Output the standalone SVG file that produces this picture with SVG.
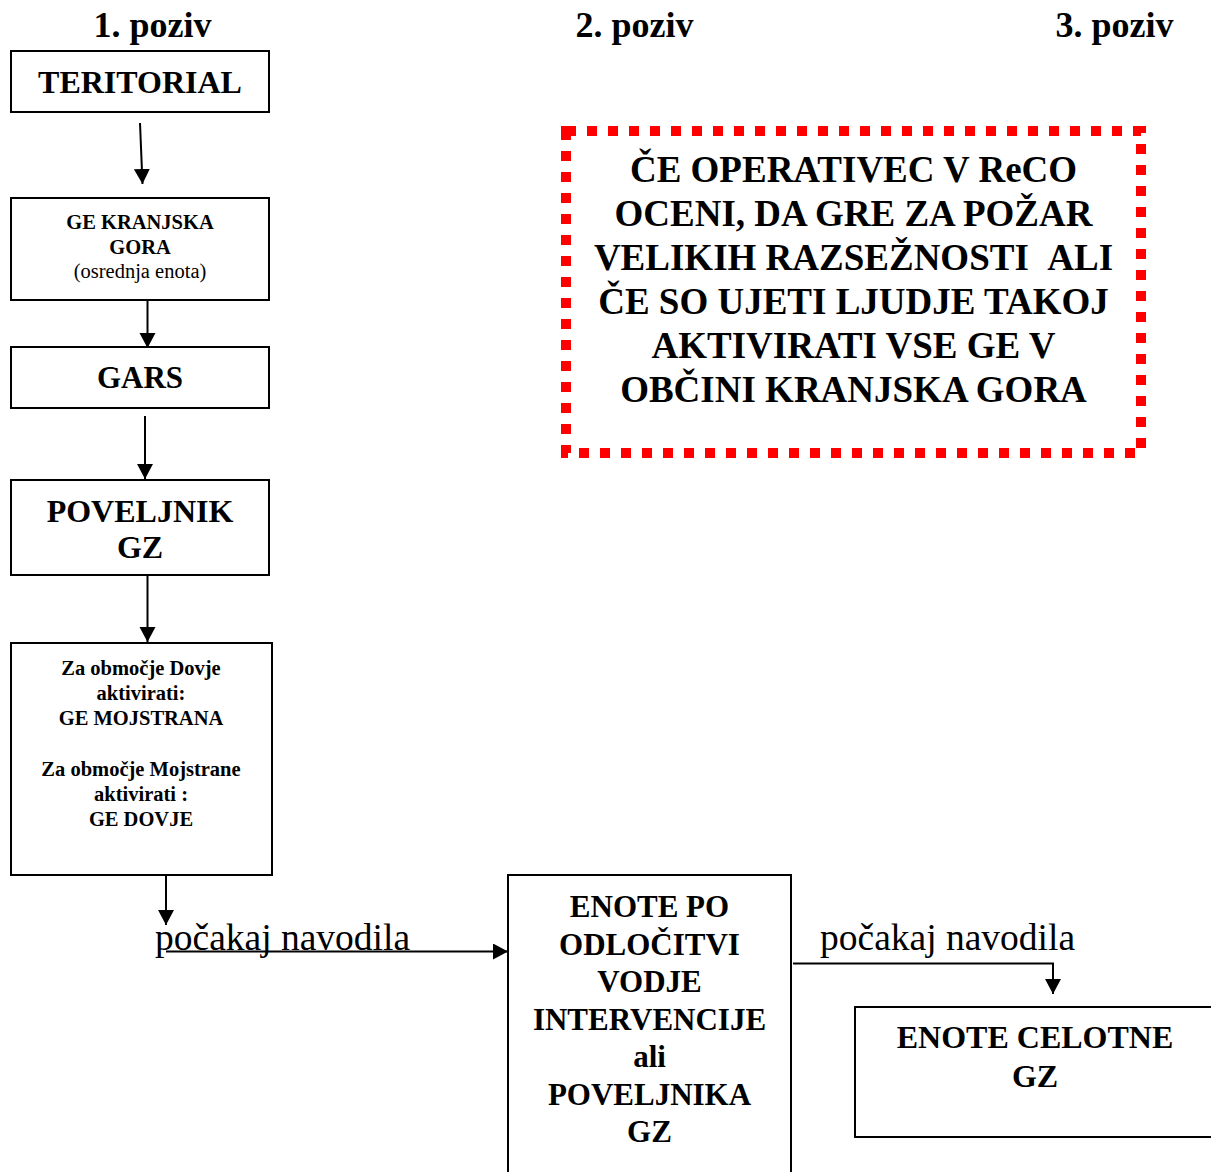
<svg xmlns="http://www.w3.org/2000/svg" width="1211" height="1172" viewBox="0 0 1211 1172">
<style>
text{font-family:"Liberation Serif","Times New Roman",serif;fill:#000;text-anchor:middle}
.b{font-weight:bold}
.box{fill:#fff;stroke:#000;stroke-width:2}
.con{fill:none;stroke:#000;stroke-width:2}
.h{font-size:36px;font-weight:bold}
.note{fill:none;stroke:#ff0000;stroke-width:10;stroke-dasharray:10 11}
</style>
<defs>
<marker id="ah" markerUnits="userSpaceOnUse" markerWidth="18" markerHeight="18" refX="15" refY="8" orient="auto">
<path d="M0,0 L15,8 L0,16 z" fill="#000"/>
</marker>
</defs>
<rect width="1211" height="1172" fill="#fff"/>
<g id="headings">
<text class="h" x="152.5" y="37">1. poziv</text>
<text class="h" x="634.5" y="37">2. poziv</text>
<text class="h" x="1114.5" y="37">3. poziv</text>
</g>
<g id="teritorial">
<rect class="box" x="11" y="51" width="258" height="61"/>
<text class="b" x="140" y="93" font-size="32">TERITORIAL</text>
</g>
<g id="ge-kranjska-gora">
<rect class="box" x="11" y="198" width="258" height="102"/>
<text class="b" x="140" y="229" font-size="20.5">GE KRANJSKA</text>
<text class="b" x="140" y="254" font-size="20.5">GORA</text>
<text x="140" y="278" font-size="20.5">(osrednja enota)</text>
</g>
<g id="gars">
<rect class="box" x="11" y="347" width="258" height="61"/>
<text class="b" x="140" y="388" font-size="31">GARS</text>
</g>
<g id="poveljnik-gz">
<rect class="box" x="11" y="480" width="258" height="95"/>
<text class="b" x="140" y="522" font-size="32">POVELJNIK</text>
<text class="b" x="140" y="558" font-size="32">GZ</text>
</g>
<g id="za-obmocje">
<rect class="box" x="11" y="643" width="261" height="232"/>
<g class="b" font-size="20.5">
<text x="141" y="675">Za območje Dovje</text>
<text x="141" y="700">aktivirati:</text>
<text x="141" y="725">GE MOJSTRANA</text>
<text x="141" y="776">Za območje Mojstrane</text>
<text x="141" y="801">aktivirati :</text>
<text x="141" y="826">GE DOVJE</text>
</g>
</g>
<g id="enote-po-odlocitvi">
<rect class="box" x="508" y="875" width="283" height="310"/>
<g class="b" font-size="31">
<text x="649.5" y="917">ENOTE PO</text>
<text x="649.5" y="955">ODLOČITVI</text>
<text x="649.5" y="992">VODJE</text>
<text x="649.5" y="1030">INTERVENCIJE</text>
<text x="649.5" y="1067">ali</text>
<text x="649.5" y="1105">POVELJNIKA</text>
<text x="649.5" y="1142">GZ</text>
</g>
</g>
<g id="enote-celotne-gz">
<rect class="box" x="855" y="1007" width="370" height="130"/>
<text class="b" x="1035" y="1048" font-size="32">ENOTE CELOTNE</text>
<text class="b" x="1035" y="1087" font-size="32">GZ</text>
</g>
<g id="note">
<rect class="note" x="566" y="131" width="575" height="322"/>
<g class="b" font-size="37">
<text x="853.5" y="182">ČE OPERATIVEC V ReCO</text>
<text x="853.5" y="226">OCENI, DA GRE ZA POŽAR</text>
<text x="853.5" y="270">VELIKIH RAZSEŽNOSTI &#160;ALI</text>
<text x="853.5" y="314">ČE SO UJETI LJUDJE TAKOJ</text>
<text x="853.5" y="358">AKTIVIRATI VSE GE V</text>
<text x="853.5" y="402">OBČINI KRANJSKA GORA</text>
</g>
</g>
<g id="connectors">
<line class="con" x1="140" y1="123" x2="142.5" y2="184" marker-end="url(#ah)"/>
<line class="con" x1="147.5" y1="300" x2="147.5" y2="348" marker-end="url(#ah)"/>
<line class="con" x1="145" y1="416" x2="145" y2="479" marker-end="url(#ah)"/>
<line class="con" x1="147.5" y1="575" x2="147.5" y2="642" marker-end="url(#ah)"/>
<line class="con" x1="166" y1="875" x2="166" y2="925" marker-end="url(#ah)"/>
<line class="con" x1="166" y1="951.5" x2="508" y2="951.5" marker-end="url(#ah)"/>
<polyline class="con" points="793,963.5 1053,963.5 1053,994" marker-end="url(#ah)"/>
<text x="155" y="950" font-size="37.5" style="text-anchor:start">počakaj navodila</text>
<text x="820" y="950" font-size="37.5" style="text-anchor:start">počakaj navodila</text>
</g>
</svg>
